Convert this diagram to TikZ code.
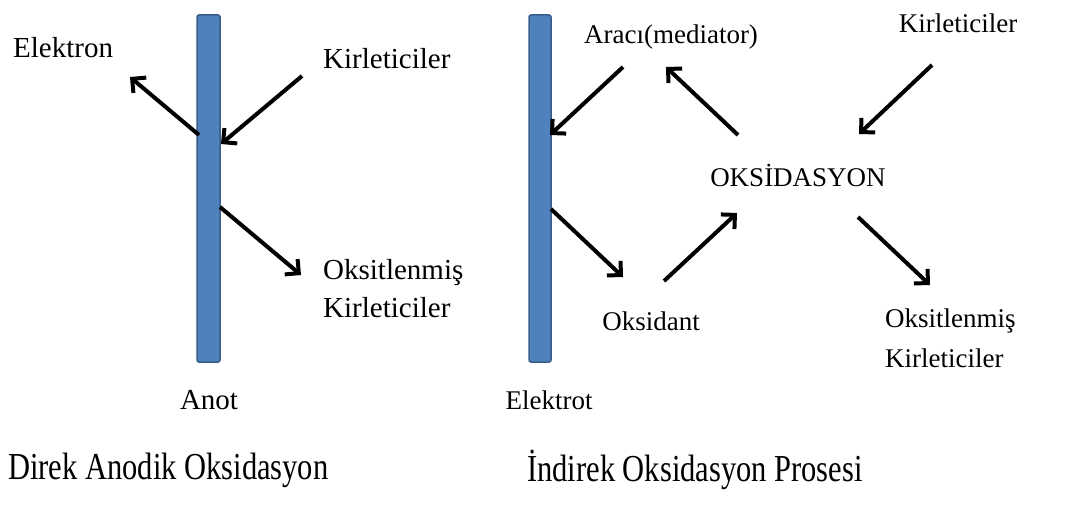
\documentclass[tikz,border=0pt]{standalone}
\usepackage{fontspec}
\setmainfont{Liberation Serif}
\usetikzlibrary{arrows.meta}
\definecolor{barfill}{HTML}{4F81BD}
\definecolor{barline}{HTML}{385D8A}
\tikzset{
  bar/.style={fill=barfill,draw=barline,line width=1.5pt,rounded corners=2pt},
  lbl/.style={inner sep=0pt,font=\fontsize{29}{38}\selectfont},
  rlbl/.style={inner sep=0pt,font=\fontsize{27}{40}\selectfont},
  ttl/.style={inner sep=0pt,font=\fontsize{30.5}{36}\selectfont,yscale=1.25},
  arr/.style={line width=4pt,-{Straight Barb[length=10pt,width=20pt,line width=4pt]}}
}
\begin{document}
\begin{tikzpicture}[x=1pt,y=-1pt]
\useasboundingbox (0,0) rectangle (1089,519);
% bars
\draw[bar] (197,15) rectangle (220,362);
\coordinate (anotbar) at (208.5,188);
\draw[bar] (529,15) rectangle (551,362);
\coordinate (elekbar) at (540,188);
% left labels
\node[lbl,anchor=west] (elektron) at (13,48) {Elektron};
\node[lbl,anchor=west] (kir1) at (323,59) {Kirleticiler};
\node[lbl,anchor=north west,align=left] (oks1) at (323,259) {Oksitlenmiş\\Kirleticiler};
\node[lbl] (anot) at (209,400) {Anot};
% right labels
\node[rlbl] (araci) at (671,37) {Aracı(mediator)};
\node[rlbl] (kir2) at (958,23) {Kirleticiler};
\node[rlbl] (oksidasyon) at (798,175) {OKSİDASYON};
\node[rlbl] (oksidant) at (651,321) {Oksidant};
\node[rlbl,anchor=north west,align=left] (oks2) at (885,309) {Oksitlenmiş\\Kirleticiler};
\node[rlbl] (elektrot) at (549,400) {Elektrot};
% titles
\node[ttl,anchor=west] (t1) at (8,470) {Direk Anodik Oksidasyon};
\node[ttl,anchor=west] (t2) at (527,470) {İndirek Oksidasyon Prosesi};
% arrow end points
\coordinate (a1s) at (199,135); \coordinate (a1e) at (130,77);
\coordinate (a2s) at (302,76);  \coordinate (a2e) at (221,144);
\coordinate (a3s) at (220,207); \coordinate (a3e) at (301,275);
\coordinate (b1s) at (623,67);  \coordinate (b1e) at (550,135);
\coordinate (b2s) at (738,135); \coordinate (b2e) at (666,67);
\coordinate (b3s) at (932,65);  \coordinate (b3e) at (859,134);
\coordinate (b4s) at (551,209); \coordinate (b4e) at (623,277);
\coordinate (b5s) at (664,281); \coordinate (b5e) at (737,213);
\coordinate (b6s) at (858,217); \coordinate (b6e) at (930,285);
% arrows
\draw[arr] (a1s) -- (a1e);
\draw[arr] (a2s) -- (a2e);
\draw[arr] (a3s) -- (a3e);
\draw[arr] (b1s) -- (b1e);
\draw[arr] (b2s) -- (b2e);
\draw[arr] (b3s) -- (b3e);
\draw[arr] (b4s) -- (b4e);
\draw[arr] (b5s) -- (b5e);
\draw[arr] (b6s) -- (b6e);
\end{tikzpicture}
\end{document}
